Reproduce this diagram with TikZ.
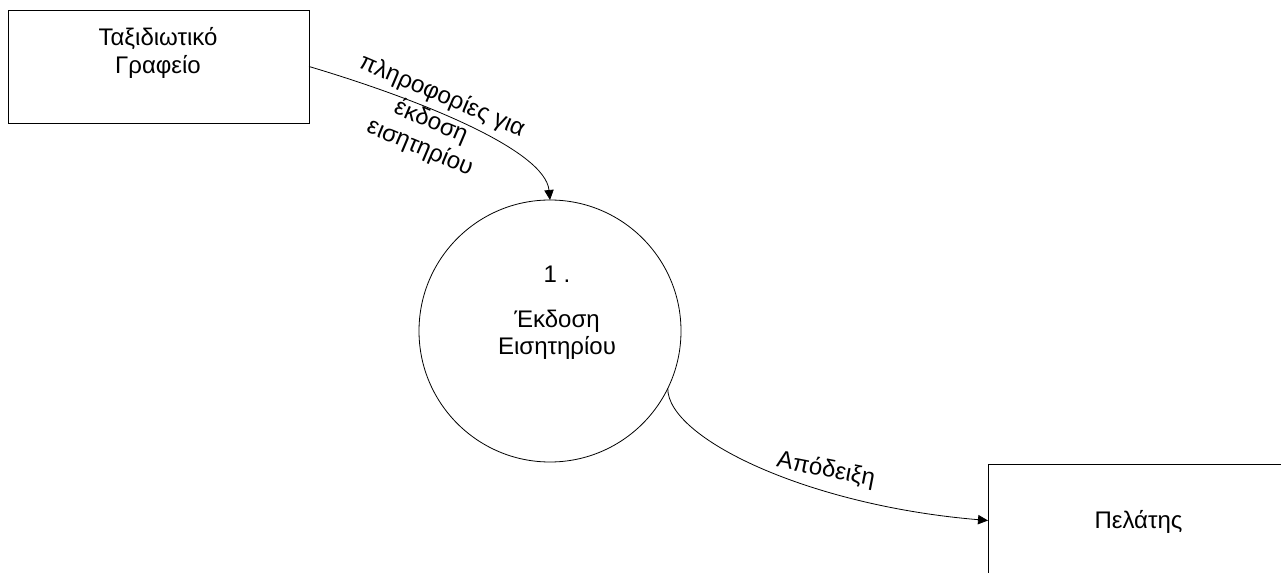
\documentclass[tikz,border=0pt]{standalone}
\usepackage{fontspec}
\setmainfont{Liberation Sans}
\usetikzlibrary{arrows.meta}
\begin{document}
\begin{tikzpicture}[x=0.75pt,y=-0.75pt,
  ent/.style={draw, line width=0.6pt, minimum width=225.75pt, minimum height=84.75pt, inner sep=0pt, outer sep=0pt},
  proc/.style={draw, circle, line width=0.6pt, minimum size=196.5pt, inner sep=0pt, outer sep=0pt},
  txt/.style={font=\fontsize{18}{21}\selectfont, inner sep=0pt, anchor=base},
  lbl/.style={font=\fontsize{18}{21}\selectfont, inner sep=0pt, align=center},
  flow/.style={line width=0.6pt, -{Triangle[length=7.5pt,width=7pt]}}
]
\useasboundingbox (0,0) rectangle (1281,573);
\clip (0,0) rectangle (1281,573);

% external entity: travel agency
\node[ent] (tg) at (158.5,66.5) {};
\node[txt] (tg1) at (158,45.7) {Ταξιδιωτικό};
\node[txt] (tg2) at (158,74) {Γραφείο};

% process 1
\node[proc] (ek) at (550,331) {};
\node[txt] (n1) at (557,283) {1 .};
\node[txt] (n2) at (557,328) {Έκδοση};
\node[txt] (n3) at (557,355) {Εισητηρίου};

% external entity: customer
\node[ent] (pel) at (1138.5,520.5) {};
\node[txt] (pel1) at (1138.5,528) {Πελάτης};

% data flows
\draw[flow] (tg.east) .. controls +(111,33) and +(-5,-50) .. (ek.north);
\draw[flow] (ek.-26) .. controls +(0,50) and +(-180,-15) .. (pel.west);

% flow labels
\node[lbl, rotate=-23] (l1) at (431,122) {πληροφορίες για\\έκδοση\\εισητηρίου};
\node[lbl, rotate=-11] (l2) at (826,470) {Απόδειξη};
\end{tikzpicture}
\end{document}
